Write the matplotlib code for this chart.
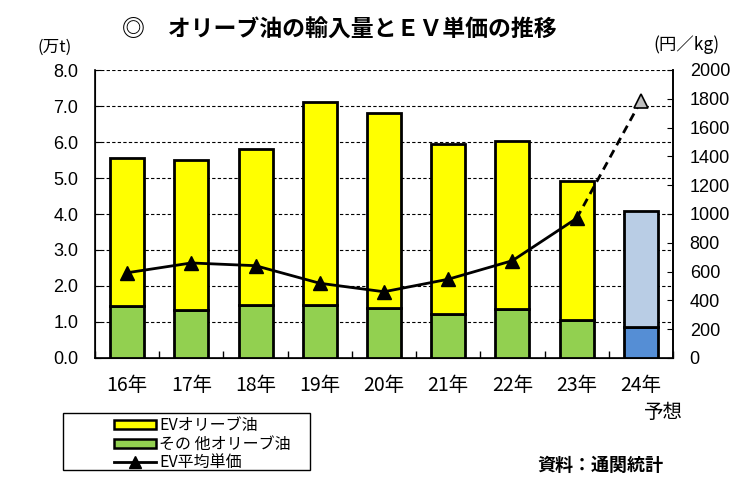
import matplotlib
matplotlib.use("Agg")
import matplotlib.pyplot as plt
from matplotlib.patches import Patch, Rectangle
from matplotlib.lines import Line2D
import numpy as np

plt.rcParams['font.family'] = ['Noto Sans CJK JP', 'DejaVu Sans']

years = ['16年', '17年', '18年', '19年', '20年', '21年', '22年', '23年', '24年']
total = [5.56, 5.50, 5.81, 7.11, 6.81, 5.95, 6.04, 4.92, 4.08]
other = [1.45, 1.33, 1.47, 1.47, 1.40, 1.21, 1.36, 1.06, 0.86]
ev = [t - o for t, o in zip(total, other)]
price = [592, 660, 641, 519, 460, 547, 676, 970, 1785]

fig = plt.figure(figsize=(7.36, 4.90), dpi=100)
ax = fig.add_axes([95/736, 1-358/490, 578/736, 288/490])
x = np.arange(len(years))

ev_colors = ['#FFFF00'] * 8 + ['#B9CDE5']
ot_colors = ['#92D050'] * 8 + ['#558ED5']
ax.bar(x, other, width=0.53, color=ot_colors, edgecolor='black', linewidth=2, zorder=3)
ax.bar(x, ev, bottom=other, width=0.53, color=ev_colors, edgecolor='black', linewidth=2, zorder=3)

num_font = ['Liberation Sans', 'DejaVu Sans']
ax.set_xlim(-0.5, len(years) - 0.5)
ax.set_ylim(0, 8)
ax.set_yticks(np.arange(0, 8.01, 1.0))
ax.set_yticklabels([f'{v:.1f}' for v in np.arange(0, 8.01, 1.0)], fontsize=13, family=num_font)
ax.yaxis.grid(True, linestyle=(0, (3, 2)), color='black', linewidth=0.8, zorder=0)
ax.set_axisbelow(True)
ax.set_xticks(x)
ax.set_xticklabels(years, fontsize=14)
ax.set_xticks(np.arange(-0.5, len(years), 1.0), minor=True)
ax.tick_params(axis='x', which='major', length=0, pad=12)
ax.tick_params(axis='x', which='minor', direction='in', length=5, width=1)
ax.tick_params(axis='y', direction='in', length=4, pad=12)
ax.spines['top'].set_visible(False)
for s in ['left', 'bottom', 'right']:
    ax.spines[s].set_linewidth(1.2)

ax2 = ax.twinx()
ax2.set_ylim(0, 2000)
ax2.set_yticks(np.arange(0, 2001, 200))
ax2.set_yticklabels([str(v) for v in range(0, 2001, 200)], fontsize=13, family=num_font)
ax2.tick_params(axis='y', direction='in', length=4, pad=12)
ax2.spines['top'].set_visible(False)
ax2.spines['right'].set_linewidth(1.2)
ax2.plot(x[:8], price[:8], color='black', linewidth=2, marker='^', markersize=10,
         markerfacecolor='black', markeredgecolor='black', zorder=5)
ax2.plot(x[7:], price[7:], color='black', linewidth=2, linestyle=(0, (3, 2)), zorder=5)
ax2.plot(x[8:], price[8:], linestyle='none', marker='^', markersize=10,
         markerfacecolor='#BFBFBF', markeredgecolor='black', markeredgewidth=1.2, zorder=6)

fig.text(339/736, 1-30/490, '◎　オリーブ油の輸入量とＥＶ単価の推移', fontsize=16.5, fontweight='bold',
         ha='center', va='center')
fig.text(55/736, 1-47/490, '(万t)', fontsize=12, ha='center', va='center')
fig.text(686/736, 1-45/490, '(円／kg)', fontsize=12.5, ha='center', va='center')
fig.text(663/736, 1-412/490, '予想', fontsize=14, ha='center', va='center')
fig.text(600/736, 1-465/490, '資料：通関統計', fontsize=13, fontweight='bold', ha='center', va='center')

fig.patches.append(Rectangle((63/736, 1-470/490), (310-63)/736, (470-413)/490,
                             transform=fig.transFigure, facecolor='white', edgecolor='black',
                             linewidth=1, zorder=1))
handles = [Patch(facecolor='#FFFF00', edgecolor='black', linewidth=1.8),
           Patch(facecolor='#92D050', edgecolor='black', linewidth=1.8),
           Line2D([0], [0], color='black', linewidth=2, marker='^', markersize=8)]
labels = ['EVオリーブ油', 'その 他オリーブ油', 'EV平均単価']
leg = fig.legend(handles, labels, loc='upper left', bbox_to_anchor=(103/736, 1-406/490),
                 frameon=False, fontsize=11.5, handlelength=2.6, handleheight=0.5,
                 handletextpad=0.2, labelspacing=0.1, borderpad=0.2)

fig.savefig('out.png', dpi=100)
